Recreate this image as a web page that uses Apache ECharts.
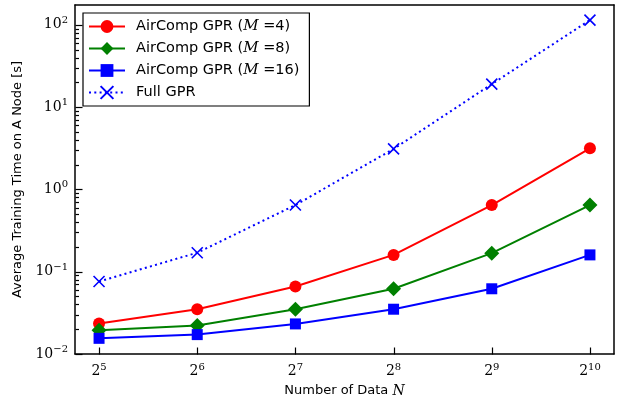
<!DOCTYPE html>
<html>
<head>
<meta charset="utf-8">
<script src="https://cdn.jsdelivr.net/npm/echarts@6/dist/echarts.min.js"></script>
<style>
  html, body { margin: 0; padding: 0; background: #fff; }
  #chart { width: 629px; height: 403px; }
</style>
</head>
<body>
<div id="chart"></div>
<script>
// data (seconds)
const nValues = [32, 64, 128, 256, 512, 1024];
const timeM4 = [0.0235, 0.035, 0.066, 0.16, 0.645, 3.15];
const timeM8 = [0.0195, 0.0222, 0.035, 0.062, 0.168, 0.645];
const timeM16 = [0.0155, 0.0172, 0.0232, 0.035, 0.062, 0.16];
const timeFull = [0.076, 0.17, 0.645, 3.1, 19, 114];

// tick exponents: 2^k on x, 10^k on y
const xTickExps = [5, 6, 7, 8, 9, 10];
const yTickExps = [-2, -1, 0, 1, 2];

const xMin = 4.755, xMax = 10.245;
const yMin = -2, yMax = 2.24;

// minor ticks at 2..9 x 10^k (log space)
const yMinor = [];
yTickExps.forEach(function (k) {
  for (let m = 2; m <= 9; m++) {
    const v = k + Math.log10(m);
    if (v < yMax) yMinor.push(v);
  }
});

function toPoints(arr) {
  return nValues.map(function (n, i) { return [Math.log2(n), Math.log10(arr[i])]; });
}

const serif = '"DejaVu Serif", "Liberation Serif", serif';
const sans = '"DejaVu Sans", sans-serif';

function supLabel(base, k) {
  const e = k < 0 ? '\u2212' + (-k) : String(k);
  return '{b|' + base + '}{s|' + e + '}';
}

function supRich() {
  return {
    b: { fontFamily: serif, fontSize: 14, color: '#000' },
    s: { fontFamily: serif, fontSize: 10, color: '#000', padding: [0, 0, 9, 0] }
  };
}

function frameLine() {
  return { show: true, onZero: false, lineStyle: { color: '#000', width: 1.5 } };
}

// inward tick marks, placed through the axes' own scales
function tickSeries(values, onX, len) {
  return {
    type: 'custom', silent: true, z: 10, clip: false,
    data: values.map(function (v) { return onX ? [v, yMin] : [xMin, v]; }),
    renderItem: function (params, api) {
      const p = api.coord([api.value(0), api.value(1)]);
      const x = Math.round(p[0]) + 0.5, y = Math.round(p[1]) + 0.5;
      return {
        type: 'line',
        shape: onX ? { x1: x, y1: y, x2: x, y2: y - len }
                   : { x1: x, y1: y, x2: x + len, y2: y },
        style: { stroke: '#000', lineWidth: 1.2 }
      };
    }
  };
}

var chartDom = document.getElementById('chart');
var myChart = echarts.init(chartDom);

const legendLabels = {
  'M4': '{t|AirComp GPR (}{m|M}{t| =4)}',
  'M8': '{t|AirComp GPR (}{m|M}{t| =8)}',
  'M16': '{t|AirComp GPR (}{m|M}{t| =16)}',
  'Full': '{t|Full GPR}'
};

const option = {
  animation: false,
  backgroundColor: '#fff',
  grid: { left: 75, right: 15, top: 5, bottom: 49 },
  legend: {
    orient: 'vertical',
    left: 83, top: 13,
    padding: [6, 10, 6, 5],
    borderColor: '#000', borderWidth: 1.2, borderRadius: 0,
    backgroundColor: '#fff',
    itemWidth: 36, itemHeight: 16, itemGap: 7,
    data: ['M4', 'M8', 'M16', 'Full'],
    formatter: function (name) { return legendLabels[name]; },
    textStyle: {
      rich: {
        t: { fontFamily: sans, fontSize: 14.5, color: '#000' },
        m: { fontFamily: serif, fontStyle: 'italic', fontSize: 15, color: '#000' }
      },
      padding: [0, 0, 0, 6]
    }
  },
  xAxis: [
    {
      type: 'value',
      min: xMin, max: xMax,
      splitLine: { show: false },
      axisLine: frameLine(),
      axisTick: { show: false },
      axisLabel: {
        customValues: xTickExps,
        margin: 8,
        formatter: function (v) { return supLabel('2', Math.round(v)); },
        rich: supRich()
      },
      name: '{t|Number of Data }{i|N}',
      nameLocation: 'middle',
      nameGap: 30,
      nameTextStyle: {
        rich: {
          t: { fontFamily: sans, fontSize: 13, color: '#000' },
          i: { fontFamily: serif, fontStyle: 'italic', fontSize: 14, color: '#000' }
        }
      }
    },
    {
      type: 'value', position: 'top',
      min: xMin, max: xMax,
      splitLine: { show: false },
      axisLine: frameLine(),
      axisTick: { show: false },
      axisLabel: { show: false }
    }
  ],
  yAxis: [
    {
      type: 'value',
      min: yMin, max: yMax,
      splitLine: { show: false },
      axisLine: frameLine(),
      axisTick: { show: false },
      axisLabel: {
        customValues: yTickExps,
        margin: 7,
        formatter: function (v) { return supLabel('10', Math.round(v)); },
        rich: supRich()
      },
      name: 'Average Training Time on A Node [s]',
      nameLocation: 'middle',
      nameGap: 50,
      nameTextStyle: { fontFamily: sans, fontSize: 13, color: '#000' }
    },
    {
      type: 'value',
      position: 'right',
      min: yMin, max: yMax,
      splitLine: { show: false },
      axisLine: frameLine(),
      axisLabel: { show: false },
      axisTick: { show: false }
    }
  ],
  series: [
    tickSeries(xTickExps, true, 7),
    tickSeries(yTickExps, false, 7),
    tickSeries(yMinor, false, 3.5),
    {
      name: 'M4', type: 'line', data: toPoints(timeM4),
      symbol: 'circle', symbolSize: 12,
      color: '#ff0000',
      lineStyle: { color: '#ff0000', width: 2 },
      itemStyle: { color: '#ff0000' }
    },
    {
      name: 'M8', type: 'line', data: toPoints(timeM8),
      symbol: 'diamond', symbolSize: 15,
      color: '#008000',
      lineStyle: { color: '#008000', width: 2 },
      itemStyle: { color: '#008000' }
    },
    {
      name: 'M16', type: 'line', data: toPoints(timeM16),
      symbol: 'rect', symbolSize: 11,
      color: '#0000ff',
      lineStyle: { color: '#0000ff', width: 2 },
      itemStyle: { color: '#0000ff' }
    },
    {
      name: 'Full', type: 'line', data: toPoints(timeFull),
      symbol: 'path://M0,0L10,10M10,0L0,10', symbolSize: 11,
      color: '#0000ff',
      lineStyle: { color: '#0000ff', width: 2, type: [2, 3.3] },
      itemStyle: { color: '#0000ff', borderColor: '#0000ff', borderWidth: 1.6 }
    }
  ]
};

myChart.setOption(option);
</script>
</body>
</html>
